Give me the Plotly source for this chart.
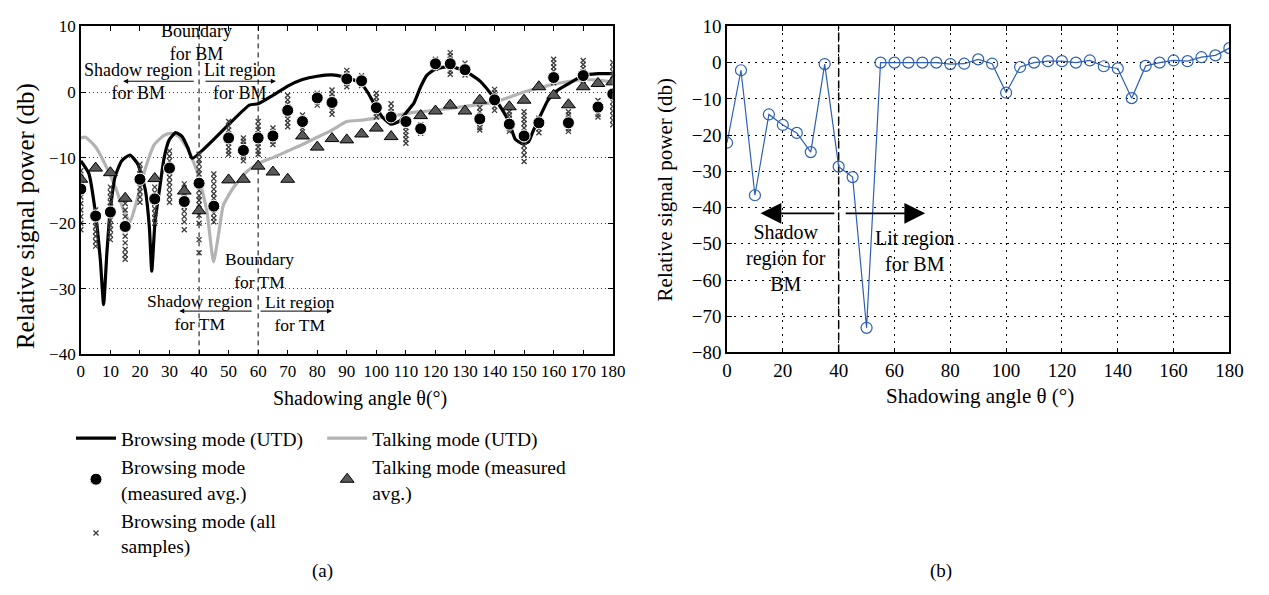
import plotly.graph_objects as go

W, H = 1269, 595
FONT = "Liberation Serif"

# ---------------- Panel (a) data ----------------
angles = [0, 5, 10, 15, 20, 25, 30, 35, 40, 45, 50, 55, 60, 65, 70, 75, 80, 85, 90,
          95, 100, 105, 110, 115, 120, 125, 130, 135, 140, 145, 150, 155, 160, 165,
          170, 175, 180]

bm_avg = [-14.8, -18.9, -18.3, -20.5, -13.3, -16.3, -11.6, -16.7, -13.9, -17.4,
          -7.0, -8.9, -7.0, -6.7, -2.8, -4.5, -0.9, -1.6, 2.0, 1.7,
          -2.4, -3.8, -4.5, -5.6, 4.3, 4.3, 3.4, -4.1, -1.2, -4.9,
          -6.7, -4.7, 2.2, -4.7, 2.5, -2.3, -0.3]

tm_avg = [-13.3, -11.6, -12.3, -16.2, None, -13.2, None, -15.1, -18.1, None,
          -13.4, -13.3, -11.3, -12.2, -13.3, -6.7, -8.4, -7.1, -7.3, -6.4,
          -5.5, -6.8, None, -3.6, -2.9, -2.0, -2.9, -1.25, None, -2.25,
          -1.25, 0.8, -0.5, -1.95, 0.8, 1.3, 1.55]

bm_samples = [
    [-12, -13, -14, -15, -16, -17, -18, -19, -20, -21],
    [-18, -19, -19.8, -20.5, -21.3, -22, -22.8, -23.5],
    [-14.5, -15.3, -16, -16.8, -17.5, -19.5, -20.3, -21, -21.8, -22.5],
    [-17, -18, -19, -20, -21, -22, -23, -24, -24.8, -25.5],
    [-11, -11.8, -12.5, -13.2, -14.5, -15.2, -16, -16.8],
    [-14.5, -15.3, -16, -17, -17.8, -18.5, -19.2, -20],
    [-9, -9.8, -10.5, -11.2, -12.3, -13, -13.8, -14.5, -15.3, -16, -16.8],
    [-14, -14.8, -15.5, -16.2, -17.5, -18.2, -19, -19.8, -21],
    [-9.5, -10.3, -11, -11.8, -12.5, -15, -15.8, -16.5, -17.2, -18, -18.8, -20, -22.5, -24.5],
    [-12.5, -13.2, -14, -14.8, -15.5, -16.2, -18.5, -19.2, -19.8],
    [-4.5, -5.2, -5.8, -6.4, -7.8, -8.4, -9, -9.5],
    [-7, -7.5, -8, -9.5, -10, -10.5],
    [-4.5, -5.2, -5.8, -6.4, -7.8, -8.4, -9, -9.5],
    [-5.5, -6, -7.5, -8],
    [-0.5, -1.2, -1.8, -2.2, -3.5, -4.1, -4.7, -5.3],
    [-3.5, -4, -5, -5.5],
    [-0.2, -1.5, -2],
    [0.3, -0.3, -0.8, -2.2, -2.8, -3.4],
    [3.3, 2.8, 1.3, 0.8],
    [2.5, 1],
    [-0.2, -0.8, -1.4, -3.3, -3.8],
    [-1.8, -2.5, -3],
    [-4.2, -4.8, -5.4, -6, -6.6, -7.2, -7.8],
    [-5, -6.3],
    [5, 3.6],
    [6, 5.5, 5, 3.2, 2.7],
    [4.4, 2.6],
    [-2.4, -3, -3.6, -4.8, -5.4, -5.8],
    [0.4, -0.1, -0.6, -2.2, -2.8],
    [-3, -3.5, -4, -5.6, -6],
    [-3, -3.6, -4.2, -4.8, -5.5, -7.5, -8.2, -8.9, -9.6, -10.6],
    [-4, -5.6, -6.2],
    [5, 4.4, 3.8, 3.2, 1.4],
    [-3, -3.5, -4, -5.6, -6],
    [4.8, 4.2, 3.6, 3.1, 1.8],
    [-1.3, -3.4, -3.8],
    [4.5, 3.8, 3.1, 2.5, -1.5, -2.2, -2.9, -3.6, -4.3, -5],
]

bm_utd_x = [0, 2.7, 4.9, 6.6, 7.7, 8.8, 9.9, 11.6, 13.8, 16.6,
            19.3, 21.8, 23.2, 24, 25.1, 26.6, 28.2, 29.9, 32.1, 34.3,
            36.2, 37.7, 57, 60, 65, 70, 75, 80, 85, 89,
            92, 95, 97, 99, 102, 105, 108, 110, 112.7, 115,
            117, 120, 125, 130, 135, 140, 143, 145, 147, 149.5,
            151.5, 153, 155, 158, 160.5, 165, 170, 175, 180]
bm_utd_y = [-10.5, -12.4, -18.3, -25.6, -32.4, -24.6, -18.3, -12.9, -10.5, -9.6,
            -11, -14.9, -20.7, -27.3, -19.8, -14.9, -10, -7.3, -6.2, -6.8,
            -8.5, -10.1, -2.0, -1.8, -0.5, 0.9, 1.9, 2.4, 2.6, 2.3,
            1.9, 1.2, 0, -1.6, -3.8, -4.9, -4.4, -3.2, -1.7, 0.8,
            2.5, 3.5, 3.9, 3.2, 1.7, -1.0, -3.0, -4.7, -7.2, -7.9,
            -7.6, -6.0, -4.1, -1.3, 0, 1.25, 2.5, 2.8, 2.8]

tm_utd_x = [0, 1.6, 4.9, 8.2, 11.6, 14.3, 16.6, 18.8, 21.6, 24.9,
            28.2, 30.4, 33.2, 36.6, 39.9, 42.7, 44.9, 46.6, 48.2, 51.6,
            56, 60, 65, 70, 75, 80, 85, 90, 95, 100,
            105, 110, 115, 120, 125, 130, 135, 140, 145, 150,
            155, 160, 165, 170, 175, 180]
tm_utd_y = [-7.0, -6.9, -8.3, -11, -14.4, -17.8, -19.8, -16.8, -12, -8,
            -6.6, -6.3, -6.8, -9, -12.9, -18.3, -25.9, -21.7, -17.3, -14.6,
            -12.2, -10.9, -10.0, -9.0, -8.0, -6.9, -5.8, -4.5, -4.3, -4.0,
            -3.7, -3.3, -3.0, -2.8, -2.5, -2.2, -1.9, -1.5, -0.8, 0,
            0.6, 1.2, 1.6, 1.9, 1.8, 1.5]

ticks_a_x = [0, 10, 20, 30, 40, 50, 60, 70, 80, 90, 100, 110, 120, 130, 140, 150, 160, 170, 180]
ticks_a_y = [10, 0, -10, -20, -30, -40]

# ---------------- Panel (b) data ----------------
b_angles = angles
b_power = [-22.1, -2.1, -36.6, -14.3, -17.2, -19.4, -24.7, -0.4, -28.7, -31.6,
           -73.2, 0, 0, 0, 0, 0, -0.4, -0.3, 0.9, -0.3,
           -8.3, -1.2, 0, 0.4, 0.4, 0, 0.6, -1.0, -1.6, -9.8,
           -0.9, 0, 0.6, 0.4, 1.5, 2.0, 4.0]
ticks_b_x = [0, 20, 40, 60, 80, 100, 120, 140, 160, 180]
ticks_b_y = [10, 0, -10, -20, -30, -40, -50, -60, -70, -80]

# flatten samples
samp_x = [a for a, vals in zip(angles, bm_samples) for _ in vals]
samp_y = [v for vals in bm_samples for v in vals]

fig = go.Figure()

fig.add_trace(go.Scatter(
    x=tm_utd_x, y=tm_utd_y, mode="lines", name="Talking mode (UTD)",
    line=dict(color="#b3b3b3", width=3.2, shape="spline", smoothing=0.5),
    legend="legend2", legendrank=1, xaxis="x", yaxis="y"))
fig.add_trace(go.Scatter(
    x=bm_utd_x, y=bm_utd_y, mode="lines", name="Browsing mode (UTD)",
    line=dict(color="black", width=3.2, shape="spline", smoothing=0.5),
    legend="legend", legendrank=1, xaxis="x", yaxis="y"))
fig.add_trace(go.Scatter(
    x=samp_x, y=samp_y, mode="markers", name="Browsing mode (all<br>samples)",
    marker=dict(symbol="x-thin", size=5, line=dict(width=1.3, color="#3a3a3a")),
    legend="legend", legendrank=3, xaxis="x", yaxis="y"))
fig.add_trace(go.Scatter(
    x=angles, y=tm_avg, mode="markers", name="Talking mode (measured<br>avg.)",
    marker=dict(symbol="triangle-up", size=12, color="#595959",
                line=dict(width=1, color="black")),
    legend="legend2", legendrank=2, xaxis="x", yaxis="y"))
fig.add_trace(go.Scatter(
    x=angles, y=bm_avg, mode="markers", name="Browsing mode<br>(measured avg.)",
    marker=dict(symbol="circle", size=12, color="black",
                line=dict(width=1, color="white")),
    legend="legend", legendrank=2, xaxis="x", yaxis="y"))

fig.add_trace(go.Scatter(
    x=b_angles, y=b_power, mode="lines+markers", showlegend=False,
    line=dict(color="#2d5fb4", width=1.2),
    marker=dict(symbol="circle-open", size=11, color="#2d5fb4", line=dict(width=1.2)),
    xaxis="x2", yaxis="y2"))

axis_common = dict(showline=True, mirror="ticks", linecolor="black", linewidth=1.6,
                   ticks="inside", ticklen=5, tickcolor="black", zeroline=False)

fig.update_layout(
    width=W, height=H, margin=dict(l=0, r=0, t=0, b=0),
    paper_bgcolor="white", plot_bgcolor="white",
    xaxis=dict(domain=[77 / W, 617 / W], range=[0, 180], tickvals=ticks_a_x,
               showgrid=False, anchor="y",
               tickfont=dict(family=FONT, size=17, color="black"), **axis_common),
    yaxis=dict(domain=[1 - 357 / H, 1 - 17 / H], range=[-40, 10], tickvals=ticks_a_y,
               showgrid=True, gridcolor="#333", griddash="1px,3px", gridwidth=1,
               anchor="x",
               tickfont=dict(family=FONT, size=17, color="black"), **axis_common),
    xaxis2=dict(domain=[733 / W, 1243 / W], range=[0, 180], tickvals=ticks_b_x,
                showgrid=True, gridcolor="black", griddash="2px,5px", gridwidth=1,
                anchor="y2",
                tickfont=dict(family=FONT, size=19, color="black"), **axis_common),
    yaxis2=dict(domain=[1 - 355 / H, 1 - 17 / H], range=[-80, 10], tickvals=ticks_b_y,
                showgrid=True, gridcolor="black", griddash="2px,5px", gridwidth=1,
                anchor="x2",
                tickfont=dict(family=FONT, size=19, color="black"), **axis_common),
    legend=dict(x=67 / W, y=1 - 424 / H, xanchor="left", yanchor="top",
                font=dict(family=FONT, size=19.5, color="black"),
                bgcolor="rgba(0,0,0,0)", itemwidth=40, tracegroupgap=0),
    legend2=dict(x=322 / W, y=1 - 424 / H, xanchor="left", yanchor="top",
                 font=dict(family=FONT, size=19.5, color="black"),
                 bgcolor="rgba(0,0,0,0)", itemwidth=40, tracegroupgap=0),
)

shapes = [
    dict(type="line", xref="x", yref="y", x0=40, x1=40, y0=-40, y1=10,
         line=dict(color="black", width=1, dash="5px,4px"), layer="below"),
    dict(type="line", xref="x", yref="y", x0=60, x1=60, y0=-40, y1=10,
         line=dict(color="black", width=1, dash="5px,4px"), layer="below"),
    dict(type="line", xref="x2", yref="y2", x0=40, x1=40, y0=-80, y1=10,
         line=dict(color="black", width=1.5, dash="8px,4px"), layer="below"),
]
fig.update_layout(shapes=shapes)

ann = []


def txt(x, y, s, size, xref="x", yref="y", angle=0):
    ann.append(dict(x=x, y=y, xref=xref, yref=yref, text=s, showarrow=False,
                    xanchor="center", yanchor="middle", align="center",
                    textangle=angle,
                    font=dict(family=FONT, size=size, color="black")))


def arrow(x, y, ax, ay, xr="x", yr="y", head=2, size=1.0, width=1.0):
    ann.append(dict(x=x, y=y, ax=ax, ay=ay, xref=xr, yref=yr, axref=xr, ayref=yr,
                    text="", showarrow=True, arrowhead=head, arrowsize=size,
                    arrowwidth=width, arrowcolor="black"))


# panel (a) annotations
txt(39.3, 7.5, "Boundary<br>for BM", 18)
txt(19.3, 1.6, "Shadow region<br>for BM", 18)
txt(53.7, 1.6, "Lit region<br>for BM", 18)
arrow(14.3, 1.64, 38.7, 1.64)
arrow(66, 1.64, 41.7, 1.64)
txt(60.5, -27.2, "Boundary<br>for TM", 17.5)
txt(40.2, -33.6, "Shadow region<br>for TM", 17.5)
txt(74.3, -33.8, "Lit region<br>for TM", 17.5)
arrow(33.3, -33.4, 58.3, -33.4)
arrow(85, -33.4, 60.3, -33.4)

# panel (b) annotations
arrow(12, -41.6, 39, -41.6, "x2", "y2", head=2, size=2.6, width=1.6)
arrow(71, -41.6, 42, -41.6, "x2", "y2", head=2, size=2.6, width=1.6)
txt(21.2, -53.9, "Shadow<br>region for<br>BM", 20, "x2", "y2")
txt(67, -52, "Lit region<br>for BM", 20, "x2", "y2")

# axis titles and panel labels (paper coords)
txt(360 / W, 1 - 403 / H, "Shadowing angle θ(°)", 20, "paper", "paper")
txt(22 / W, 1 - 214 / H, "Relative signal power (db)", 25, "paper", "paper", -90)
txt(990 / W, 1 - 400 / H, "Shadowing angle θ (°)", 21, "paper", "paper")
txt(670 / W, 1 - 186 / H, "Relative signal power (db)", 21, "paper", "paper", -90)
txt(322 / W, 1 - 582 / H, "(a)", 19, "paper", "paper")
txt(950 / W, 1 - 582 / H, "(b)", 19, "paper", "paper")

fig.update_layout(annotations=ann)

fig.write_html(
    "out.html",
    config={"displayModeBar": False},
    post_script="document.body.style.margin='0px';document.body.style.overflow='hidden';",
)
